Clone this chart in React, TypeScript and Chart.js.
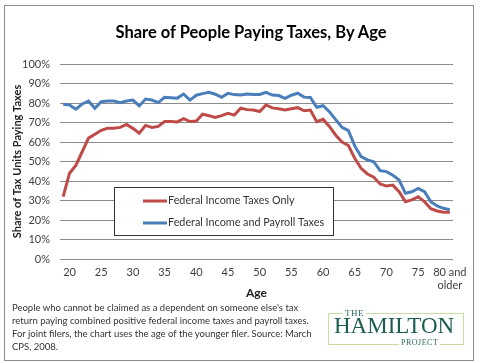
import React, { useEffect, useRef } from "react";
import { Chart, registerables } from "chart.js";

Chart.register(...registerables);

const ages: number[] = [
  19, 20, 21, 22, 23, 24, 25, 26, 27, 28, 29, 30, 31, 32, 33, 34, 35, 36, 37, 38, 39, 40,
  41, 42, 43, 44, 45, 46, 47, 48, 49, 50, 51, 52, 53, 54, 55, 56, 57, 58, 59, 60,
  61, 62, 63, 64, 65, 66, 67, 68, 69, 70, 71, 72, 73, 74, 75, 76, 77, 78, 79, 80,
];

const incomeTaxesOnly: number[] = [
  32, 44, 48, 55, 62, 64, 66, 67, 67, 67.5, 69, 67, 64.5, 68.5, 67.5, 68, 70.5, 70.5, 70.3, 72, 70.5, 70.8,
  74.3, 73.5, 72.6, 73.5, 74.7, 73.8, 77.3, 76.6, 76.4, 75.6, 79, 77.5, 77, 76.4, 77, 77.6, 76, 76.4, 70.4, 71.6,
  68, 63.5, 60, 58.2, 51.6, 46.5, 43.6, 42, 38.5, 37.4, 37.9, 34.5, 29.4, 30.3, 31.9, 29.4, 25.8, 24.6, 24, 24,
];

const incomeAndPayroll: number[] = [
  79.3, 79, 76.8, 79.5, 81, 77.3, 80.7, 81, 81, 80.2, 81, 81.5, 78.5, 82, 81.5, 80.2, 82.9, 82.7, 82.5, 84.6, 81.5, 84,
  84.8, 85.5, 84.5, 82.9, 85, 84.3, 84.1, 84.6, 84.3, 84.4, 85.5, 84.1, 83.8, 82.4, 84, 85, 83, 82.8, 77.8, 78.6,
  75.5, 71.5, 67.5, 65.8, 58, 52.5, 50.8, 49.9, 45.3, 44.8, 43, 40.5, 33.7, 34.5, 36.2, 34.5, 29.4, 27.2, 26, 25.3,
];

const seriesNames: string[] = ["Federal Income Taxes Only", "Federal Income and Payroll Taxes"];
const shownAgeTicks: number[] = [20, 25, 30, 35, 40, 45, 50, 55, 60, 65, 70, 75];
const lastAgeLabel: string[] = ["80 and", "older"];

const titleText = "Share of People Paying Taxes, By Age";
const yTitle = "Share of Tax Units Paying Taxes";
const xTitle = "Age";
const footnoteLines: string[] = [
  "People who cannot be claimed as a dependent on someone else's tax",
  "return paying combined positive federal income taxes and payroll taxes.",
  "For joint filers, the chart uses the age of the younger filer. Source: March",
  "CPS, 2008.",
];

const RED = "#BE4B48";
const BLUE = "#4A7EBB";
const FONT = "Lato, 'Open Sans', sans-serif";

const legendBoxPlugin = {
  id: "legendBox",
  afterDatasetsDraw(chart: any) {
    const { ctx, chartArea } = chart;
    const x = chartArea.left + 54;
    const y = chartArea.top + 123;
    const w = 219;
    const h = 48;
    ctx.save();
    ctx.fillStyle = "#ffffff";
    ctx.fillRect(x, y, w, h);
    ctx.strokeStyle = "#333333";
    ctx.lineWidth = 1;
    ctx.strokeRect(x + 0.5, y + 0.5, w, h);
    const colors = [RED, BLUE];
    const rows = [y + 14, y + 36];
    ctx.font = `10.8px ${FONT}`;
    ctx.textBaseline = "middle";
    seriesNames.forEach((name, i) => {
      ctx.strokeStyle = colors[i];
      ctx.lineWidth = 3;
      ctx.beginPath();
      ctx.moveTo(x + 29, rows[i]);
      ctx.lineTo(x + 53, rows[i]);
      ctx.stroke();
      ctx.fillStyle = "#333333";
      ctx.fillText(name, x + 54, rows[i]);
    });
    ctx.restore();
  },
};

export default function App() {
  const canvasRef = useRef<HTMLCanvasElement | null>(null);

  useEffect(() => {
    const canvas = canvasRef.current;
    if (!canvas) return;
    const chart = new Chart(canvas, {
      type: "line",
      data: {
        labels: ages.map(String),
        datasets: [
          {
            label: seriesNames[0],
            data: incomeTaxesOnly,
            borderColor: RED,
            backgroundColor: RED,
            borderWidth: 3,
            pointRadius: 0,
            tension: 0,
          },
          {
            label: seriesNames[1],
            data: incomeAndPayroll,
            borderColor: BLUE,
            backgroundColor: BLUE,
            borderWidth: 3,
            pointRadius: 0,
            tension: 0,
          },
        ],
      },
      options: {
        animation: false,
        responsive: false,
        devicePixelRatio: 1,
        layout: { padding: { top: 64, left: 0, right: 27, bottom: 63 } },
        plugins: {
          legend: { display: false },
          title: { display: false },
          tooltip: { enabled: false },
        },
        scales: {
          x: {
            type: "category",
            offset: true,
            grid: { display: false, drawTicks: false },
            border: { display: false },
            afterFit: (s: any) => {
              s.height = 41;
            },
            ticks: {
              autoSkip: false,
              maxRotation: 0,
              padding: 7,
              color: "#404040",
              font: { family: FONT, size: 11 },
              callback: (_v: any, i: number) => {
                const a = ages[i];
                if (a === 80) return lastAgeLabel;
                return shownAgeTicks.includes(a) ? String(a) : "";
              },
            },
            title: {
              display: true,
              text: xTitle,
              color: "#222",
              font: { family: FONT, size: 12, weight: "bold" },
              padding: { top: 0, bottom: 0 },
            },
          },
          y: {
            min: 0,
            max: 100,
            afterFit: (s: any) => {
              s.width = 60;
            },
            grid: { color: "#8c8c8c", lineWidth: 1, drawTicks: false },
            border: { display: false },
            ticks: {
              stepSize: 10,
              padding: 10,
              color: "#404040",
              font: { family: FONT, size: 11 },
              callback: (v: any) => `${v}%`,
            },
            title: {
              display: true,
              text: yTitle,
              color: "#222",
              font: { family: FONT, size: 11, weight: "bold" },
              padding: { top: 11, bottom: 0 },
            },
          },
        },
      },
      plugins: [legendBoxPlugin],
    } as any);
    return () => chart.destroy();
  }, []);

  return (
    <div
      style={{
        position: "fixed",
        left: 0,
        top: 0,
        width: 480,
        height: 363,
        background: "#ffffff",
        overflow: "hidden",
        fontFamily: FONT,
      }}
    >
      <div
        style={{
          position: "absolute",
          left: 4,
          top: 5,
          width: 468,
          height: 354,
          border: "1px solid #8c8c8c",
        }}
      />
      <canvas
        ref={canvasRef}
        width={480}
        height={363}
        style={{ position: "absolute", left: 0, top: 0, width: 480, height: 363 }}
      />
      <div
        style={{
          position: "absolute",
          left: 0,
          width: 502,
          top: 21,
          textAlign: "center",
          fontSize: 16.5,
          fontWeight: "bold",
          color: "#000",
          lineHeight: "22px",
          whiteSpace: "nowrap",
        }}
      >
        {titleText}
      </div>
      <div
        style={{
          position: "absolute",
          left: 12,
          top: 301,
          fontSize: 9.5,
          lineHeight: "13px",
          color: "#333",
          whiteSpace: "pre",
        }}
      >
        {footnoteLines.join("\n")}
      </div>
      <div
        style={{
          position: "absolute",
          left: 328,
          top: 313,
          width: 134,
          height: 30,
          border: "1px solid #c8dca0",
        }}
      />
      <div
        style={{
          position: "absolute",
          left: 343,
          top: 307,
          padding: "0 2px",
          background: "#fff",
          fontFamily: "'Liberation Serif', serif",
          fontSize: 9,
          lineHeight: "12px",
          color: "#2a6a5c",
          letterSpacing: 0.5,
        }}
      >
        THE
      </div>
      <div
        style={{
          position: "absolute",
          left: 334,
          top: 313,
          fontFamily: "'Liberation Serif', serif",
          fontSize: 23,
          lineHeight: "26px",
          color: "#1d5c50",
        }}
      >
        HAMILTON
      </div>
      <div
        style={{
          position: "absolute",
          left: 399,
          top: 337,
          padding: "0 2px",
          background: "#fff",
          fontFamily: "'Liberation Serif', serif",
          fontSize: 8,
          lineHeight: "12px",
          color: "#2a6a5c",
          letterSpacing: 0.5,
        }}
      >
        PROJECT
      </div>
    </div>
  );
}
